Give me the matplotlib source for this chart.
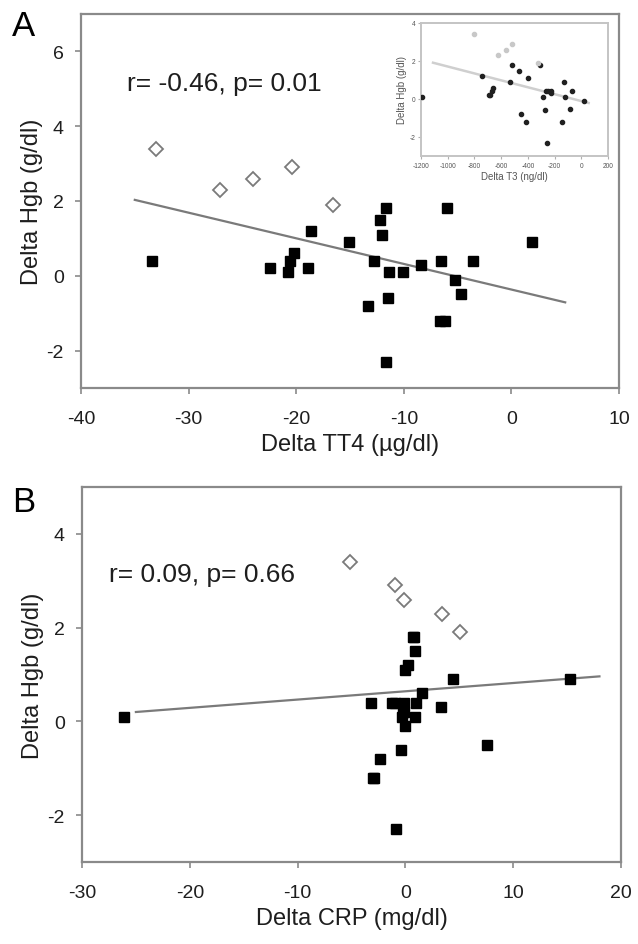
import numpy as np
import matplotlib
matplotlib.use("Agg")
import matplotlib.pyplot as plt

plt.rcParams['font.family'] = ['Liberation Sans', 'DejaVu Sans']
plt.rcParams['axes.unicode_minus'] = False

# Panel A: Delta TT4 vs Delta Hgb
tt4_black = [-33.4, -22.4, -20.8, -20.6, -20.2, -18.9, -18.6, -15.1, -13.3, -12.8,
             -12.2, -12.0, -11.7, -11.4, -11.5, -11.7, -10.1, -8.4, -6.5, -6.6,
             -6.2, -6.0, -5.2, -4.7, -3.6, 1.9]
hgb_black_a = [0.4, 0.2, 0.1, 0.4, 0.6, 0.2, 1.2, 0.9, -0.8, 0.4,
               1.5, 1.1, 1.8, 0.1, -0.6, -2.3, 0.1, 0.3, 0.4, -1.2,
               -1.2, 1.8, -0.1, -0.5, 0.4, 0.9]
tt4_open = [-33.0, -27.1, -24.0, -20.4, -16.6]
hgb_open = [3.4, 2.3, 2.6, 2.9, 1.9]
fit_a_x = [-35, 5]
fit_a_y = [2.03, -0.71]

# Inset: Delta T3 vs Delta Hgb
t3_black = [-1190, -740, -690, -680, -660, -665, -522, -537, -469, -398,
            -454, -413, -307, -286, -266, -250, -225, -230, -269, -258,
            -147, -126, -121, -86, -68, 18]
hgb_black_i = [0.1, 1.2, 0.2, 0.2, 0.6, 0.4, 1.8, 0.9, 1.5, 1.1,
               -0.8, -1.2, 1.8, 0.1, 0.4, 0.4, 0.4, 0.3, -0.6, -2.3,
               -1.2, 0.9, 0.1, -0.5, 0.4, -0.1]
t3_open = [-800, -620, -560, -520, -322]
fit_i_x = [-1110, 55]
fit_i_y = [1.91, -0.21]

# Panel B: Delta CRP vs Delta Hgb
crp_black = [-26.1, -3.16, -2.97, -2.9, -2.4, -1.26, -0.96, -0.88, -0.42, -0.1,
             -0.3, -0.1, -0.2, 0.0, 0.0, 0.26, 0.75, 0.8, 0.9, 0.94,
             0.9, 1.5, 3.3, 4.4, 7.6, 15.3]
hgb_black_b = [0.1, 0.4, -1.2, -1.2, -0.8, 0.4, 0.4, -2.3, -0.6, 0.4,
               0.1, 0.2, 0.2, -0.1, 1.1, 1.2, 1.8, 1.8, 1.5, 0.4,
               0.1, 0.6, 0.3, 0.9, -0.5, 0.9]
crp_open = [-5.1, -1.0, -0.1, 3.4, 5.1]
hgb_open_b = [3.4, 2.9, 2.6, 2.3, 1.9]
fit_b_x = [-25, 18]
fit_b_y = [0.2, 0.96]

W, H = 638, 945
fig = plt.figure(figsize=(W / 100, H / 100), dpi=100)

spine_c = '#8a8a8a'
text_c = '#1e1e1e'


def rect(x0, y0, x1, y1):
    # pixel box -> figure fraction
    return [x0 / W, 1 - y1 / H, (x1 - x0) / W, (y1 - y0) / H]


def style(ax, xt, yt, xlabel):
    for s in ax.spines.values():
        s.set_color(spine_c)
        s.set_linewidth(1.6)
    ax.set_xticks(xt)
    ax.set_yticks(yt)
    ax.tick_params(direction='out', length=4, width=1.2, color=spine_c,
                   labelsize=14, labelcolor=text_c)
    ax.tick_params(axis='x', pad=12)
    ax.tick_params(axis='y', pad=8.5)
    ax.tick_params(top=False, right=False)
    ax.set_xlabel(xlabel, fontsize=17, color=text_c, labelpad=4.5)
    ax.set_ylabel('Delta Hgb (g/dl)', fontsize=17, color=text_c, labelpad=2.5)


def scatter(ax, xb, yb, xo, yo, fx, fy):
    ax.plot(fx, fy, color='#7a7a7a', lw=1.6, zorder=2)
    ax.plot(xb, yb, 's', color='black', ms=7, mec='black', zorder=3)
    ax.plot(xo, yo, 'D', mfc='white', mec='#7a7a7a', mew=1.3, ms=7, zorder=3)


# --- Panel A
ax1 = fig.add_axes(rect(81, 15, 619, 389))
scatter(ax1, tt4_black, hgb_black_a, tt4_open, hgb_open, fit_a_x, fit_a_y)
ax1.set_xlim(-40, 10)
ax1.set_ylim(-3, 7)
style(ax1, np.arange(-40, 11, 10), [-2, 0, 2, 4, 6], 'Delta TT4 (\u00b5g/dl)')
ax1.text(0.085, 0.815, 'r= -0.46, p= 0.01', transform=ax1.transAxes,
         fontsize=19, color=text_c, va='center', ha='left')
fig.text(23 / W, 1 - 26 / H, 'A', fontsize=25, color='black', ha='center', va='center')

# --- Inset
axi = fig.add_axes(rect(421, 24, 608, 157))
axi.set_facecolor('white')
axi.plot(fit_i_x, fit_i_y, color='#cfcfcf', lw=1.8, zorder=2)
axi.plot(t3_black, hgb_black_i, 'o', color='#202020', ms=3, zorder=3)
axi.plot(t3_open, hgb_open, 'o', color='#c8c8c8', ms=3, zorder=3)
axi.set_xlim(-1200, 200)
axi.set_ylim(-3, 4)
for s in axi.spines.values():
    s.set_color('#c4c4c4')
    s.set_linewidth(1.4)
axi.set_xticks(np.arange(-1200, 201, 200))
axi.set_yticks([-2, 0, 2, 4])
axi.tick_params(direction='out', length=2, width=0.8, color='#b0b0b0',
                labelsize=4.8, labelcolor='#555555', pad=2)
axi.set_xlabel('Delta T3 (ng/dl)', fontsize=7, color='#555555', labelpad=2)
axi.set_ylabel('Delta Hgb (g/dl)', fontsize=7, color='#555555', labelpad=2)

# --- Panel B
ax2 = fig.add_axes(rect(82, 488, 621, 863))
scatter(ax2, crp_black, hgb_black_b, crp_open, hgb_open_b, fit_b_x, fit_b_y)
ax2.set_xlim(-30, 20)
ax2.set_ylim(-3, 5)
style(ax2, np.arange(-30, 21, 10), [-2, 0, 2, 4], 'Delta CRP (mg/dl)')
ax2.text(0.05, 0.768, 'r= 0.09, p= 0.66', transform=ax2.transAxes,
         fontsize=19, color=text_c, va='center', ha='left')
fig.text(24 / W, 1 - 502 / H, 'B', fontsize=25, color='black', ha='center', va='center')

fig.savefig('out.png', dpi=100, facecolor='white')
